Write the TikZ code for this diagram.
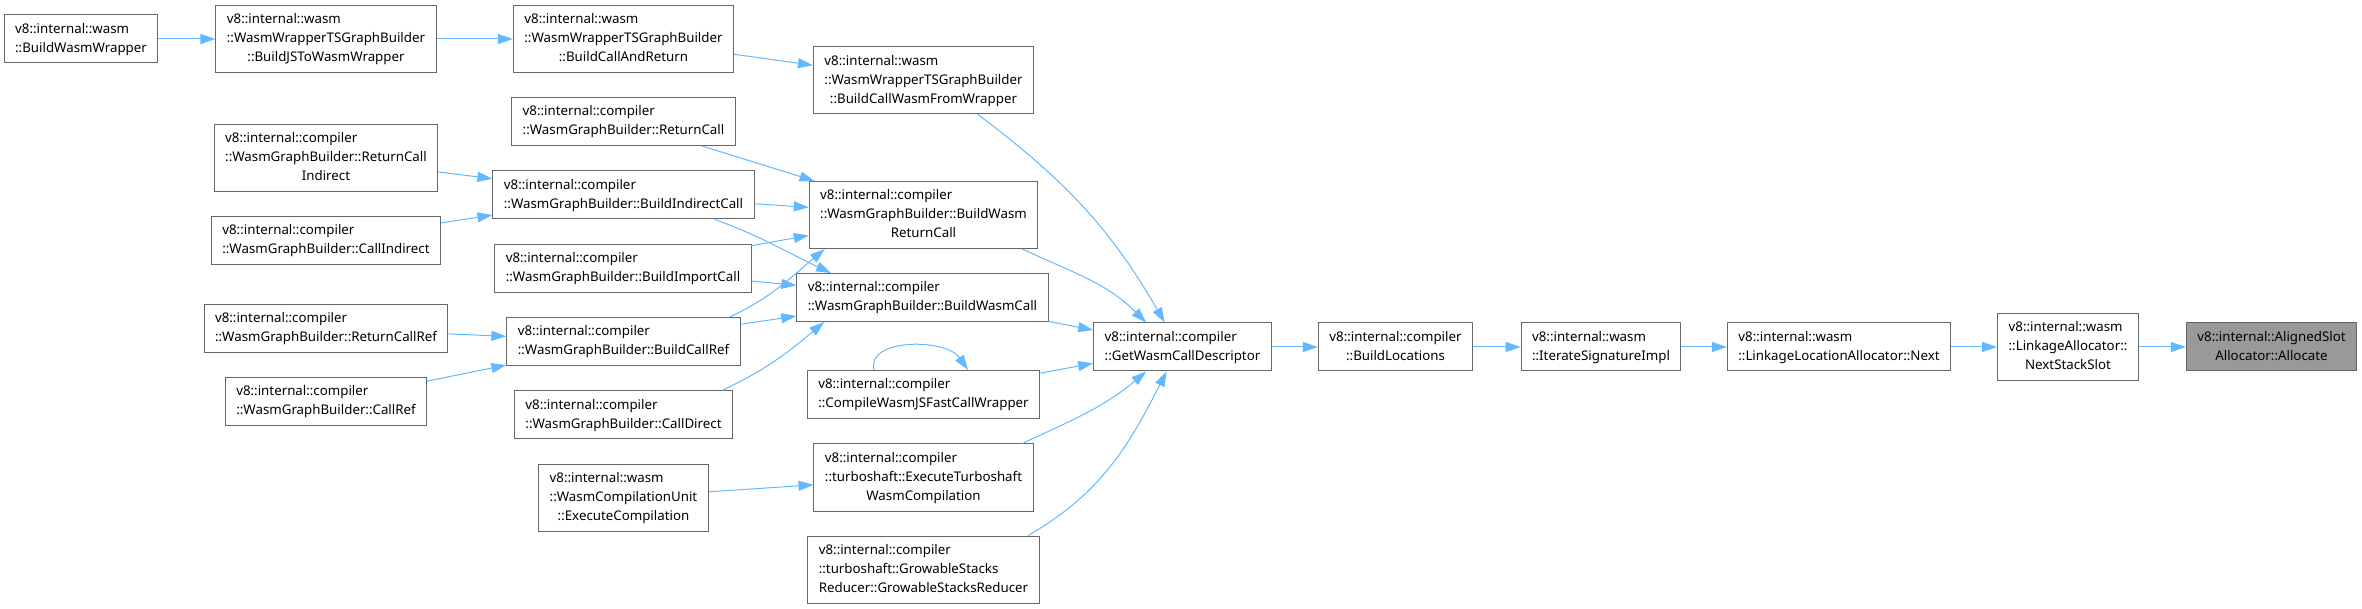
\documentclass[tikz,border=0pt]{standalone}
\usepackage{fontspec}
\setmainfont{Noto Sans}
\usetikzlibrary{arrows.meta}
\definecolor{dxedge}{HTML}{63B8FF}
\definecolor{dxborder}{HTML}{666666}
\definecolor{dxfill}{HTML}{999999}
% lines left aligned, last line centred (doxygen style)
\newcommand{\fnlabel}[2]{\begin{tabular}{@{}l@{}}#1\\\multicolumn{1}{@{}c@{}}{#2}\end{tabular}}
\tikzset{
  fnbox/.style={draw=dxborder,fill=white,line width=1pt,inner xsep=11pt,inner ysep=5pt,
    font=\fontsize{13.3}{19}\selectfont},
  curbox/.style={fnbox,fill=dxfill},
  call/.style={dxedge,line width=1pt,-{Triangle[length=15pt,width=10pt]}},
}

\begin{document}
\begin{tikzpicture}[x=1pt,y=1pt]
  \useasboundingbox (0,0) rectangle (2362,-609);
  % wrapper chain
  \node[fnbox] (wrap) at (81,-39) {\fnlabel{v8::internal::wasm}{::BuildWasmWrapper}};
  \node[fnbox] (jstw) at (326,-39) {\fnlabel{v8::internal::wasm\\::WasmWrapperTSGraphBuilder}{::BuildJSToWasmWrapper}};
  \node[fnbox] (car) at (623.5,-39) {\fnlabel{v8::internal::wasm\\::WasmWrapperTSGraphBuilder}{::BuildCallAndReturn}};
  \node[fnbox] (bcwfw) at (923.5,-80.5) {\fnlabel{v8::internal::wasm\\::WasmWrapperTSGraphBuilder}{::BuildCallWasmFromWrapper}};
  % WasmGraphBuilder callers
  \node[fnbox] (rc) at (623.5,-121.5) {\fnlabel{v8::internal::compiler}{::WasmGraphBuilder::ReturnCall}};
  \node[fnbox] (rci) at (326,-158) {\fnlabel{v8::internal::compiler\\::WasmGraphBuilder::ReturnCall}{Indirect}};
  \node[fnbox] (bic) at (623.5,-195) {\fnlabel{v8::internal::compiler}{::WasmGraphBuilder::BuildIndirectCall}};
  \node[fnbox] (ci) at (326,-240.5) {\fnlabel{v8::internal::compiler}{::WasmGraphBuilder::CallIndirect}};
  \node[fnbox] (bimc) at (623,-268.5) {\fnlabel{v8::internal::compiler}{::WasmGraphBuilder::BuildImportCall}};
  \node[fnbox] (rcr) at (326,-328.5) {\fnlabel{v8::internal::compiler}{::WasmGraphBuilder::ReturnCallRef}};
  \node[fnbox] (bcr) at (623.5,-341.5) {\fnlabel{v8::internal::compiler}{::WasmGraphBuilder::BuildCallRef}};
  \node[fnbox] (cr) at (326,-401.5) {\fnlabel{v8::internal::compiler}{::WasmGraphBuilder::CallRef}};
  \node[fnbox] (cd) at (623.5,-415) {\fnlabel{v8::internal::compiler}{::WasmGraphBuilder::CallDirect}};
  \node[fnbox] (ec) at (623.5,-497.5) {\fnlabel{v8::internal::wasm\\::WasmCompilationUnit}{::ExecuteCompilation}};
  % direct callers of GetWasmCallDescriptor
  \node[fnbox] (bwrc) at (923.5,-215) {\fnlabel{v8::internal::compiler\\::WasmGraphBuilder::BuildWasm}{ReturnCall}};
  \node[fnbox] (bwc) at (922.5,-297.5) {\fnlabel{v8::internal::compiler}{::WasmGraphBuilder::BuildWasmCall}};
  \node[fnbox] (cwjs) at (923.5,-394.5) {\fnlabel{v8::internal::compiler}{::CompileWasmJSFastCallWrapper}};
  \node[fnbox] (etwc) at (923.5,-477.5) {\fnlabel{v8::internal::compiler\\::turboshaft::ExecuteTurboshaft}{WasmCompilation}};
  \node[fnbox] (gsr) at (923.5,-569.5) {\fnlabel{v8::internal::compiler\\::turboshaft::GrowableStacks}{Reducer::GrowableStacksReducer}};
  % main row
  \node[fnbox] (gwcd) at (1182.5,-347) {\fnlabel{v8::internal::compiler}{::GetWasmCallDescriptor}};
  \node[fnbox] (bl) at (1395.5,-347) {\fnlabel{v8::internal::compiler}{::BuildLocations}};
  \node[fnbox] (isi) at (1601,-347) {\fnlabel{v8::internal::wasm}{::IterateSignatureImpl}};
  \node[fnbox] (llan) at (1839,-347) {\fnlabel{v8::internal::wasm}{::LinkageLocationAllocator::Next}};
  \node[fnbox] (nss) at (2068,-347) {\fnlabel{v8::internal::wasm\\::LinkageAllocator::}{NextStackSlot}};
  \node[curbox] (alloc) at (2271.5,-347) {\fnlabel{v8::internal::AlignedSlot}{Allocator::Allocate}};
  % calls
  \draw[call] (wrap) -- (jstw);
  \draw[call] (jstw) -- (car);
  \draw[call] (car) -- (bcwfw);
  \draw[call] (rc) -- (bwrc);
  \draw[call] (rci) -- (bic);
  \draw[call] (ci) -- (bic);
  \draw[call] (bic) -- (bwrc);
  \draw[call] (bic.-15) to[out=-20,in=155] (bwc.165);
  \draw[call] (bimc) -- (bwrc);
  \draw[call] (bimc) -- (bwc);
  \draw[call] (rcr) -- (bcr);
  \draw[call] (cr) -- (bcr);
  \draw[call] (bcr.13) to[out=25,in=220] (bwrc.199);
  \draw[call] (bcr) -- (bwc);
  \draw[call] (cd.14) to[out=25,in=220] (bwc.194);
  \draw[call] (ec) -- (etwc);
  \draw[call] (bcwfw.-32) to[out=-37,in=120] (gwcd.126);
  \draw[call] (bwrc.-19) to[out=-25,in=135] (gwcd.146);
  \draw[call] (bwc) -- (gwcd);
  \draw[call] (cwjs) -- (gwcd);
  \draw[call] ([xshift=-49.5pt]cwjs.north) .. controls +(-8,32) and +(-22,32) .. ([xshift=44.5pt]cwjs.north);
  \draw[call] (etwc.19) to[out=25,in=220] (gwcd.214);
  \draw[call] (gsr.18) to[out=30,in=243] (gwcd.237);
  \draw[call] (gwcd) -- (bl);
  \draw[call] (bl) -- (isi);
  \draw[call] (isi) -- (llan);
  \draw[call] (llan) -- (nss);
  \draw[call] (nss) -- (alloc);
\end{tikzpicture}
\end{document}
